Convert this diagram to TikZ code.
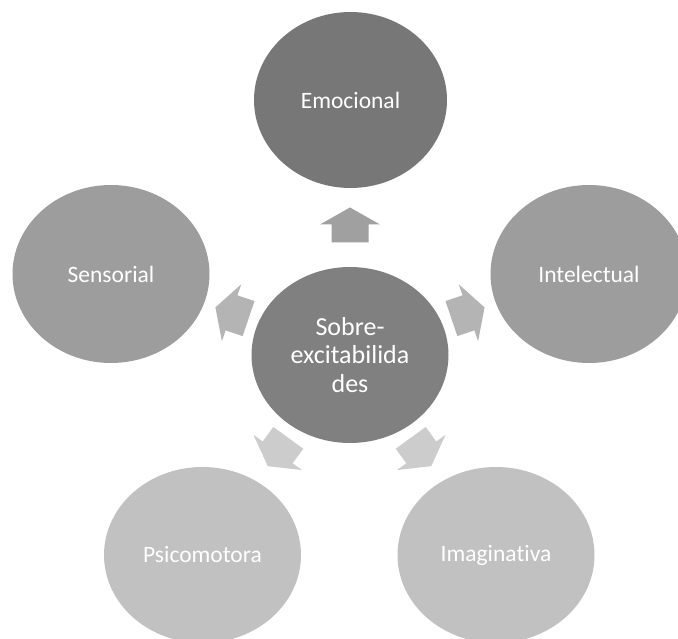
\documentclass[tikz,border=0pt]{standalone}
\usepackage{fontspec}
\setmainfont[Ligatures={NoCommon}]{Carlito}
\usetikzlibrary{shapes.geometric}
\definecolor{cEmo}{HTML}{777777}
\definecolor{cCen}{HTML}{808080}
\definecolor{cSide}{HTML}{9D9D9D}
\definecolor{cLow}{HTML}{C1C1C1}
\definecolor{aUp}{HTML}{A0A0A0}
\definecolor{aSide}{HTML}{B4B4B4}
\definecolor{aLow}{HTML}{CCCCCC}
\tikzset{
  bubble/.style={ellipse, inner sep=0pt, minimum width=197pt, minimum height=176pt,
    text=white, font=\fontsize{23.5}{28}\selectfont, align=center}
}
\newcommand{\blockarr}[3]{%
  \fill[#3, shift={(#1)}, rotate=#2] (-17.5,-18.5) -- (0.5,-18.5) -- (0.5,-30) -- (17.5,0) -- (0.5,30) -- (0.5,18.5) -- (-17.5,18.5) -- cycle;}
\begin{document}
\begin{tikzpicture}[x=1pt,y=1pt]
\useasboundingbox (0,0) rectangle (678,638);
\clip (0,0) rectangle (678,638);
\fill[white] (0,0) rectangle (678,638);
% outer circles
\node[bubble, fill=cEmo, minimum width=193pt] (emo) at (350.5,538) {Emocional};
\node[bubble, fill=cSide, minimum height=178pt] (sen) at (111,364) {Sensorial};
\node[bubble, fill=cSide, minimum height=178pt] (int) at (589,364) {Intelectual};
\node[bubble, fill=cLow] (psi) at (202.5,83) {Psicomotora};
\node[bubble, fill=cLow] (ima) at (496,83) {Imaginativa};
% center
\node[bubble, fill=cCen, font=\fontsize{26}{28.8}\selectfont] (cen) at (350,283) {Sobre-\\excitabilida\\des};
% arrow positions
\coordinate (aup) at (350,413);
\coordinate (art) at (468,325);
\coordinate (alt) at (232,325);
\coordinate (all) at (278,186);
\coordinate (alr) at (421,186);
\blockarr{aup}{90}{aUp}
\blockarr{art}{18.7}{aSide}
\blockarr{alt}{161.3}{aSide}
\blockarr{all}{-126}{aLow}
\blockarr{alr}{-54}{aLow}
\end{tikzpicture}
\end{document}
